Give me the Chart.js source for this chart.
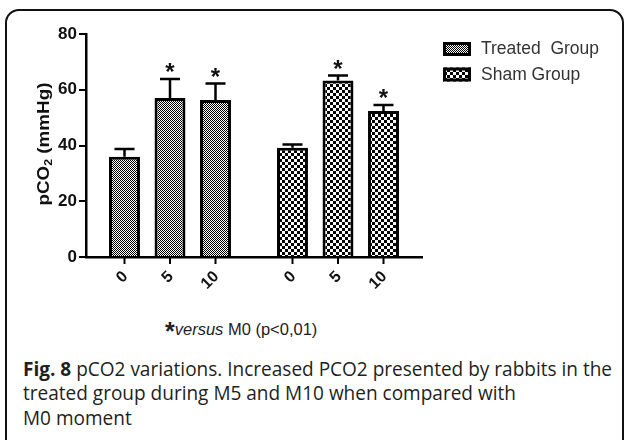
<!DOCTYPE html>
<html><head><meta charset="utf-8">
<script src="https://cdn.jsdelivr.net/npm/chart.js@4.4.1/dist/chart.umd.min.js"></script>
<style>
html,body{margin:0;padding:0;background:#fff;width:624px;height:440px;overflow:hidden;position:relative;}
#frame{position:absolute;left:5px;top:9px;width:615px;height:500px;border:2px solid #111;border-radius:14px;}
#wrap{position:absolute;left:0;top:0;width:624px;height:300px;}
#note{position:absolute;left:165px;top:320px;font:16.5px "Liberation Sans",Arial,sans-serif;line-height:18px;color:#222;white-space:nowrap;}
#note .st{font-weight:bold;font-size:25px;vertical-align:-5px;line-height:10px;}
.cap{position:absolute;left:23px;font:20px "Open Sans",sans-serif;line-height:24.5px;color:#231f20;white-space:nowrap;transform-origin:0 0;}
</style></head>
<body>
<div id="frame"></div>
<div id="wrap"><canvas id="c" width="624" height="300"></canvas></div>
<div id="note"><span class="st">*</span><i>versus</i> M0 (p&lt;0,01)</div>
<div class="cap" style="top:356.5px"><b>Fig. 8</b> pCO2 variations. Increased PCO2 presented by rabbits in the</div>
<div class="cap" style="top:381px">treated group during M5 and M10 when compared with</div>
<div class="cap" style="top:405.5px">M0 moment</div>
<script>
const groups = ['Treated Group', 'Sham Group'];
const legendLabels = ['Treated  Group', 'Sham Group'];
const timePoints = ['0', '5', '10'];
const treatedMean = [36, 57, 56.3];
const treatedErr = [2.7, 6.9, 5.9];
const shamMean = [39.2, 63.3, 52.4];
const shamErr = [1.2, 1.8, 2.1];
const treatedSig = [false, true, true];
const shamSig = [false, true, true];
const yTicks = [0, 20, 40, 60, 80];
const yTitleParts = ['pCO', '2', ' (mmHg)'];

function makePattern(cell) {
  const c = document.createElement('canvas');
  c.width = c.height = cell * 2;
  const g = c.getContext('2d');
  g.fillStyle = '#fff'; g.fillRect(0, 0, cell * 2, cell * 2);
  g.fillStyle = '#000'; g.fillRect(0, 0, cell, cell); g.fillRect(cell, cell, cell, cell);
  return g.createPattern(c, 'repeat');
}
const patterns = [makePattern(1), makePattern(3)];

const groupMeans = [treatedMean, shamMean];
const groupErrs = [treatedErr, shamErr];
const groupSig = [treatedSig, shamSig];

const datasets = timePoints.map((t, i) => ({
  label: 'M' + t,
  data: groupMeans.map(m => m[i]),
  errs: groupErrs.map(e => e[i]),
  sig: groupSig.map(s => s[i]),
  tick: t,
  backgroundColor: patterns,
  borderColor: '#000',
  borderWidth: 3,
  categoryPercentage: 0.8125,
  barPercentage: 0.68
}));

const FONT = '"Liberation Sans", Arial, sans-serif';

const extras = {
  id: 'extras',
  afterDatasetsDraw(chart) {
    const ctx = chart.ctx, y = chart.scales.y;
    ctx.save();
    chart.data.datasets.forEach((ds, di) => {
      chart.getDatasetMeta(di).data.forEach((bar, j) => {
        const top = y.getPixelForValue(ds.data[j]);
        const et = y.getPixelForValue(ds.data[j] + ds.errs[j]);
        ctx.strokeStyle = '#000'; ctx.lineWidth = 2.5;
        ctx.beginPath();
        ctx.moveTo(bar.x, top); ctx.lineTo(bar.x, et);
        ctx.moveTo(bar.x - 10, et); ctx.lineTo(bar.x + 10, et);
        ctx.stroke();
        if (ds.sig[j]) {
          ctx.fillStyle = '#111';
          ctx.font = 'bold 24px ' + FONT;
          ctx.textAlign = 'center'; ctx.textBaseline = 'alphabetic';
          ctx.fillText('*', bar.x, et + 1);
        }
      });
    });
    ctx.restore();
  },
  afterDraw(chart) {
    const ctx = chart.ctx;
    const axisY = chart.scales.y.getPixelForValue(0);
    ctx.save();
    chart.data.datasets.forEach((ds, di) => {
      chart.getDatasetMeta(di).data.forEach(bar => {
        ctx.strokeStyle = '#000'; ctx.lineWidth = 2;
        ctx.beginPath(); ctx.moveTo(bar.x, axisY); ctx.lineTo(bar.x, axisY + 7); ctx.stroke();
        ctx.save();
        ctx.translate(bar.x + 1, axisY + 17);
        ctx.rotate(-Math.PI / 4);
        ctx.font = 'bold 16px ' + FONT;
        ctx.fillStyle = '#111';
        ctx.textAlign = 'right'; ctx.textBaseline = 'middle';
        ctx.fillText(ds.tick, 0, 0);
        ctx.restore();
      });
    });
    // y title
    ctx.save();
    const big = 'bold 17px ' + FONT, small = 'bold 11px ' + FONT;
    ctx.font = big; const w0 = ctx.measureText(yTitleParts[0]).width;
    const w2 = ctx.measureText(yTitleParts[2]).width;
    ctx.font = small; const w1 = ctx.measureText(yTitleParts[1]).width;
    const W = w0 + w1 + w2;
    const sx = 123 / W;
    ctx.translate(45, 144);
    ctx.rotate(-Math.PI / 2);
    ctx.scale(sx, 1);
    ctx.fillStyle = '#111'; ctx.textAlign = 'left'; ctx.textBaseline = 'alphabetic';
    let x = -W / 2;
    ctx.font = big; ctx.fillText(yTitleParts[0], x, 4); x += w0;
    ctx.font = small; ctx.fillText(yTitleParts[1], x, 7); x += w1;
    ctx.font = big; ctx.fillText(yTitleParts[2], x, 4);
    ctx.restore();
    // legend
    legendLabels.forEach((lab, i) => {
      const by = 42 + i * 25.5;
      ctx.fillStyle = patterns[i];
      ctx.fillRect(443, by, 28, 14);
      ctx.strokeStyle = '#000'; ctx.lineWidth = 3;
      ctx.strokeRect(444.5, by + 1.5, 25, 11);
      ctx.fillStyle = '#333';
      ctx.font = '17.5px ' + FONT;
      ctx.textAlign = 'left'; ctx.textBaseline = 'middle';
      ctx.fillText(lab, 481, by + 7.5);
    });
    ctx.restore();
  }
};

new Chart(document.getElementById('c'), {
  type: 'bar',
  data: { labels: groups, datasets },
  plugins: [extras],
  options: {
    responsive: false,
    animation: false,
    devicePixelRatio: 1,
    layout: { padding: { left: 0, top: 34, right: 202, bottom: 0 } },
    plugins: { legend: { display: false }, tooltip: { enabled: false } },
    scales: {
      x: {
        type: 'category',
        ticks: { display: false },
        grid: { display: false },
        border: { display: true, color: '#000', width: 2.5 },
        afterFit(s) { s.height = 43; }
      },
      y: {
        min: 0, max: 80,
        afterBuildTicks(s) { s.ticks = yTicks.map(v => ({ value: v })); },
        ticks: { font: { family: FONT, size: 17, weight: 'bold' }, color: '#111', padding: 2 },
        grid: { drawOnChartArea: false, drawTicks: true, tickLength: 7, color: '#000', lineWidth: 2 },
        border: { display: true, color: '#000', width: 2.5 },
        afterFit(s) { s.width = 86; }
      }
    }
  }
});

function fitCaps() {
  const caps = document.querySelectorAll('.cap');
  caps.forEach(c => c.style.transform = 'none');
  const w = caps[0].getBoundingClientRect().width;
  const s = 589 / w;
  caps.forEach(c => c.style.transform = 'scaleX(' + s + ')');
}
fitCaps();
if (document.fonts) document.fonts.ready.then(fitCaps);
</script>
</body></html>
